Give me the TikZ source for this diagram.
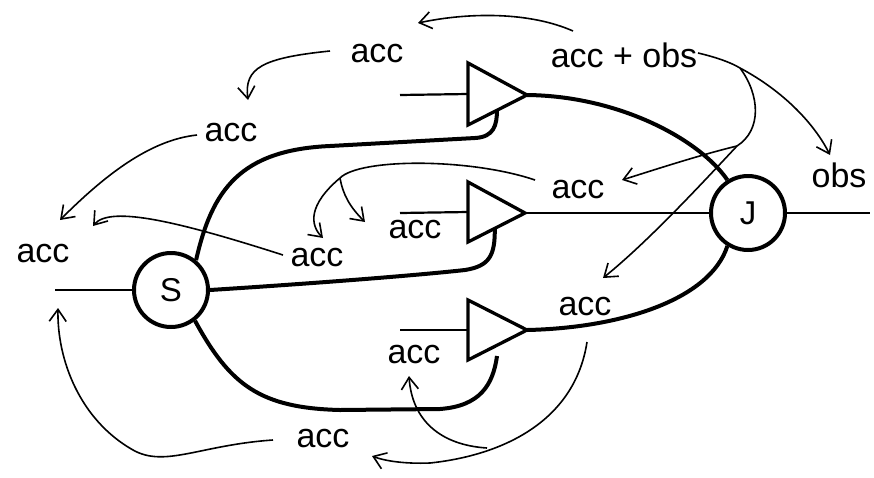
\documentclass[tikz,border=0pt]{standalone}
\usepackage{fontspec}
\setmainfont{Liberation Sans}
\usetikzlibrary{arrows.meta,calc}
\begin{document}
\begin{tikzpicture}[x=1pt,y=-1pt,
  lbl/.style={anchor=base, inner sep=0pt, font=\fontsize{34}{34}\selectfont},
  junc/.style={circle, draw, line width=4pt, minimum size=74pt, inner sep=0pt, font=\fontsize{33}{33}\selectfont},
  heavy/.style={line width=4pt},
  wire/.style={line width=2.2pt},
  tri/.style={line width=3.3pt, line join=miter},
  note/.style={line width=1.6pt, -{Straight Barb[length=12pt,width=17pt]}},
  noteline/.style={line width=1.6pt}]
\useasboundingbox (0,0) rectangle (874,477);

% junctions
\node[junc] (S) at (171,290) {S};
\node[junc] (J) at (748,213) {J};

% triangles
\coordinate (t1a) at (468,63);  \coordinate (t1b) at (468,125); \coordinate (t1) at (527,95);
\coordinate (t2a) at (468,182); \coordinate (t2b) at (468,242); \coordinate (t2) at (525,213);
\coordinate (t3a) at (468,300); \coordinate (t3b) at (468,360); \coordinate (t3) at (527,330);
\draw[tri] (t1a) -- (t1) -- (t1b) -- cycle;
\draw[tri] (t2a) -- (t2) -- (t2b) -- cycle;
\draw[tri] (t3a) -- (t3) -- (t3b) -- cycle;

% inputs / outputs
\coordinate (in1) at (400,95);
\coordinate (in2) at (400,213);
\coordinate (in3) at (400,330);
\coordinate (inS) at (55,290);
\coordinate (outJ) at (870,213);
\draw[wire] (in1) -- ($(t1a)!0.5!(t1b)$);
\draw[wire] (in2) -- ($(t2a)!0.5!(t2b)$);
\draw[wire] (in3) -- ($(t3a)!0.5!(t3b)$);
\draw[wire] (inS) -- (S.west);
\draw[wire] (J.east) -- (outJ);
\draw[wire] (t2) -- (J.west);

% heavy wires
\coordinate (e1) at ($(t1b)!0.49!(t1)$);
\coordinate (e2) at ($(t2b)!0.47!(t2)$);
\coordinate (e3) at (497,356);
\draw[heavy] (S.50) .. controls (212,190) and (240,150) .. (330,146) -- (475,138) .. controls (494,137) and (497,125) .. (e1);
\draw[heavy] (S.east) .. controls (320,283) and (420,275) .. (465,270) .. controls (490,266) and (495,255) .. (e2);
\draw[heavy] (S.-52) .. controls (230,385) and (260,408) .. (340,410) -- (440,409) .. controls (480,406) and (493,385) .. (e3);
\draw[heavy] (t1) .. controls (620,96) and (700,140) .. (J.122);
\draw[heavy] (t3) .. controls (620,328) and (710,300) .. (J.-122);

% labels
\node[lbl] (l1) at (377,62) {acc};
\node[lbl] (l2) at (624,67) {acc + obs};
\node[lbl] (l3) at (231,141) {acc};
\node[lbl] (l4) at (43,262) {acc};
\node[lbl] (l5) at (317,266) {acc};
\node[lbl] (l6) at (415,238) {acc};
\node[lbl] (l7) at (578,198) {acc};
\node[lbl] (l8) at (839,187) {obs};
\node[lbl] (l9) at (585,315) {acc};
\node[lbl] (l10) at (414,363) {acc};
\node[lbl] (l11) at (323,447) {acc};

% annotation arrows
\coordinate (a0) at (573,31);   \coordinate (a1) at (418,23);
\draw[note] (a0) .. controls (530,12) and (470,12) .. (a1);

\coordinate (b0) at (330,51);   \coordinate (b1) at (248,100);
\draw[note] (b0) .. controls (262,58) and (244,68) .. (b1);

\coordinate (c0) at (197,135);  \coordinate (c1) at (60,220);
\draw[note] (c0) .. controls (150,140) and (105,175) .. (c1);

\coordinate (d0) at (283,255);  \coordinate (d1) at (93,226);
\draw[note] (d0) .. controls (180,222) and (110,205) .. (d1);

\coordinate (f0) at (535,180);  \coordinate (fb) at (340,178);
\coordinate (f1) at (323,238);  \coordinate (f2) at (365,222);
\draw[noteline] (f0) .. controls (470,158) and (360,158) .. (fb);
\draw[note] (fb) .. controls (308,205) and (310,225) .. (f1);
\draw[note] (fb) .. controls (343,195) and (350,207) .. (f2);

\coordinate (g0) at (698,53);   \coordinate (gb) at (740,68);
\coordinate (gc) at (737,146);  \coordinate (g1) at (830,155);
\coordinate (g2) at (622,180);  \coordinate (g3) at (603,278);
\draw[noteline] (g0) .. controls (715,57) and (730,62) .. (gb);
\draw[note] (gb) .. controls (785,92) and (815,125) .. (g1);
\draw[noteline] (gb) .. controls (760,95) and (762,130) .. (gc);
\draw[note] (gc) .. controls (700,155) and (660,168) .. (g2);
\draw[note] (gc) .. controls (705,180) and (650,240) .. (g3);

\coordinate (h0) at (587,342);  \coordinate (hm) at (430,463);
\coordinate (h1) at (372,456);  \coordinate (hb) at (487,448);
\coordinate (h2) at (409,376);
\draw[note] (h0) .. controls (575,420) and (505,455) .. (hm) .. controls (405,464) and (385,461) .. (h1);
\draw[note] (hb) .. controls (440,445) and (412,420) .. (h2);

\coordinate (k0) at (273,440);  \coordinate (km) at (133,450);
\coordinate (k1) at (58,308);
\draw[note] (k0) .. controls (200,445) and (165,468) .. (km) .. controls (80,420) and (57,360) .. (k1);
\end{tikzpicture}
\end{document}
